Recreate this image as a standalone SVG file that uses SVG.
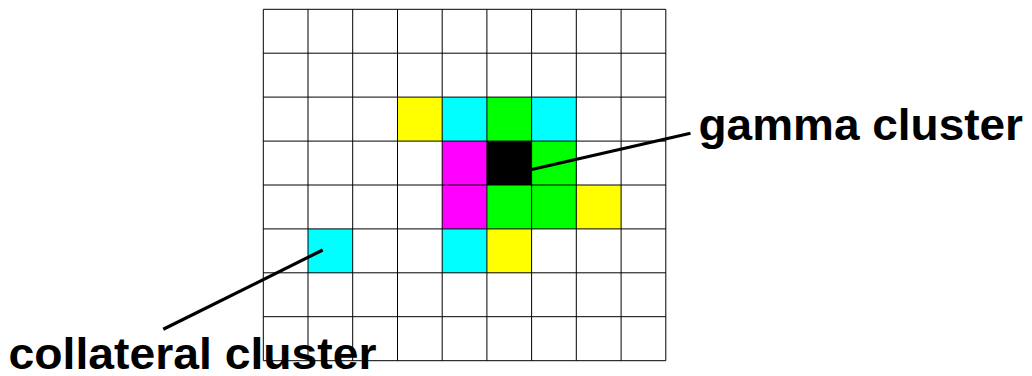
<svg xmlns="http://www.w3.org/2000/svg" width="1032" height="376" viewBox="0 0 1032 376">
<style>
.y{fill:#ffff00}.c{fill:#00ffff}.g{fill:#00ff00}.m{fill:#ff00ff}.k{fill:#000000}
.grid line{stroke:#000;stroke-width:1}
.conn line{stroke:#000;stroke-width:3.2;stroke-linecap:butt}
.lbl{font-family:"Liberation Sans",Arial,sans-serif;font-weight:bold;font-size:44px;fill:#000}
</style>
<rect width="1032" height="376" fill="#fff"/>
<g id="cells">
<rect class="y" x="397.5" y="97.1" width="44.72" height="43.92"/>
<rect class="c" x="442.2" y="97.1" width="44.72" height="43.92"/>
<rect class="g" x="486.9" y="97.1" width="44.72" height="43.92"/>
<rect class="c" x="531.6" y="97.1" width="44.72" height="43.92"/>
<rect class="m" x="442.2" y="141.1" width="44.72" height="43.92"/>
<rect class="k" x="486.9" y="141.1" width="44.72" height="43.92"/>
<rect class="g" x="531.6" y="141.1" width="44.72" height="43.92"/>
<rect class="m" x="442.2" y="185.0" width="44.72" height="43.92"/>
<rect class="g" x="486.9" y="185.0" width="44.72" height="43.92"/>
<rect class="g" x="531.6" y="185.0" width="44.72" height="43.92"/>
<rect class="y" x="576.3" y="185.0" width="44.72" height="43.92"/>
<rect class="c" x="308.0" y="228.9" width="44.72" height="43.92"/>
<rect class="c" x="442.2" y="228.9" width="44.72" height="43.92"/>
<rect class="y" x="486.9" y="228.9" width="44.72" height="43.92"/>
</g>
<g id="grid" class="grid">
<line x1="263.3" y1="9.3" x2="263.3" y2="360.7"/>
<line x1="308.0" y1="9.3" x2="308.0" y2="360.7"/>
<line x1="352.7" y1="9.3" x2="352.7" y2="360.7"/>
<line x1="397.5" y1="9.3" x2="397.5" y2="360.7"/>
<line x1="442.2" y1="9.3" x2="442.2" y2="360.7"/>
<line x1="486.9" y1="9.3" x2="486.9" y2="360.7"/>
<line x1="531.6" y1="9.3" x2="531.6" y2="360.7"/>
<line x1="576.3" y1="9.3" x2="576.3" y2="360.7"/>
<line x1="621.1" y1="9.3" x2="621.1" y2="360.7"/>
<line x1="665.8" y1="9.3" x2="665.8" y2="360.7"/>
<line x1="263.3" y1="9.3" x2="665.8" y2="9.3"/>
<line x1="263.3" y1="53.2" x2="665.8" y2="53.2"/>
<line x1="263.3" y1="97.1" x2="665.8" y2="97.1"/>
<line x1="263.3" y1="141.1" x2="665.8" y2="141.1"/>
<line x1="263.3" y1="185.0" x2="665.8" y2="185.0"/>
<line x1="263.3" y1="228.9" x2="665.8" y2="228.9"/>
<line x1="263.3" y1="272.8" x2="665.8" y2="272.8"/>
<line x1="263.3" y1="316.7" x2="665.8" y2="316.7"/>
<line x1="263.3" y1="360.7" x2="665.8" y2="360.7"/>
</g>
<g id="connectors" class="conn">
<line x1="531.7" y1="169.5" x2="690.5" y2="133.3"/>
<line x1="322.7" y1="250" x2="163.3" y2="329.3"/>
</g>
<g id="label-gamma">
<text class="lbl" x="698.5" y="140" textLength="324.5" lengthAdjust="spacingAndGlyphs">gamma cluster</text>
</g>
<g id="label-collateral">
<text class="lbl" x="8.5" y="368.5" textLength="368" lengthAdjust="spacingAndGlyphs">collateral cluster</text>
</g>
</svg>
